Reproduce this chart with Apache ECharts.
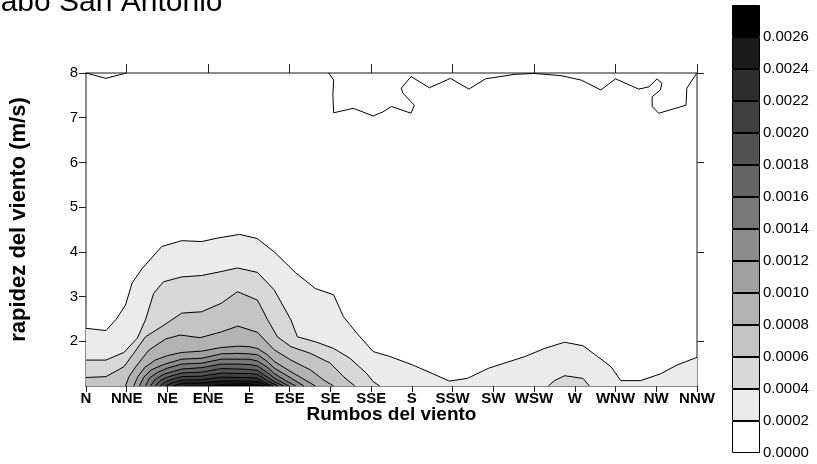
<!DOCTYPE html>
<html>
<head>
<meta charset="utf-8">
<script src="https://cdn.jsdelivr.net/npm/echarts@6/dist/echarts.min.js"></script>
<style>html,body{margin:0;padding:0;background:#fff;}#c{width:817px;height:464px;}</style>
</head>
<body>
<div id="c"></div>
<script>
var directions = ['N','NNE','NE','ENE','E','ESE','SE','SSE','S','SSW','SW','WSW','W','WNW','NW','NNW'];
var speedTicks = ['1','2','3','4','5','6','7','8'];
var levels = [0,0.0002,0.0004,0.0006,0.0008,0.0010,0.0012,0.0014,0.0016,0.0018,0.0020,0.0022,0.0024,0.0026,0.0028];
var bandColors = ['#ffffff','#ebebeb','#d8d8d8','#c4c4c4','#b2b2b2','#a0a0a0','#8c8c8c','#787878','#646464','#525252','#404040','#2e2e2e','#1a1a1a','#000000'];

// contour lines [direction index, speed m/s]
var c0000 = [[0,8],[0.49,7.88],[0.99,8]];
var c0000b = [[5.96,8],[6.08,7.84],[6.06,7.51],[6.08,7.11],[6.56,7.21],[7.05,7.04],[7.29,7.13],[7.50,7.25],[7.98,7.10],[8.06,7.28],[7.78,7.55],[7.74,7.66],[7.98,7.92],[8.43,7.67],[8.95,7.88],[9.40,7.64],[9.81,7.87],[10.53,7.97],[11.0,7.99],[11.67,7.94],[12.16,7.84],[12.64,7.62],[13.0,7.87],[13.57,7.64],[13.82,7.69],[14.02,7.87],[14.14,7.77],[14.1,7.62],[13.9,7.47],[13.9,7.25],[14.06,7.10],[14.73,7.28],[14.75,7.66],[14.99,7.99]];
var c0002 = [[0,2.29],[0.49,2.24],[0.73,2.48],[0.97,2.81],[1.13,3.30],[1.38,3.63],[1.86,4.12],[2.35,4.25],[2.84,4.23],[3.24,4.31],[3.77,4.39],[4.2,4.30],[4.62,4.0],[5.15,3.53],[5.63,3.18],[6.08,3.04],[6.32,2.55],[6.65,2.18],[7.05,1.77],[7.46,1.66],[8.02,1.47],[8.5,1.28],[8.92,1.11],[9.36,1.17],[9.89,1.40],[10.37,1.54],[10.78,1.66],[11.26,1.84],[11.75,1.98],[12.2,1.90],[12.56,1.66],[12.89,1.43],[13.13,1.12],[13.61,1.12],[14.1,1.27],[14.51,1.47],[15,1.64]];
var c0004 = [[0,1.58],[0.49,1.58],[0.93,1.75],[1.26,2.07],[1.46,2.48],[1.66,3.07],[1.9,3.33],[2.35,3.44],[2.84,3.47],[3.32,3.56],[3.72,3.64],[4.21,3.54],[4.62,3.15],[5.03,2.48],[5.19,2.10],[5.63,1.99],[6.08,1.84],[6.48,1.62],[6.89,1.28],[7.05,1.10],[7.21,1.0]];
var c0004b = [[11.35,1.0],[11.5,1.12],[11.75,1.23],[12.2,1.17],[12.36,1.0]];
var c0006 = [[0,1.19],[0.49,1.21],[0.93,1.43],[1.17,1.73],[1.46,2.10],[1.86,2.33],[2.35,2.63],[2.84,2.66],[3.32,2.85],[3.72,3.11],[4.21,2.92],[4.46,2.48],[4.7,2.10],[5.03,1.88],[5.51,1.73],[6.0,1.51],[6.32,1.21],[6.6,1.0]];
var c0008 = [[0.97,1.0],[1.05,1.2],[1.22,1.43],[1.54,1.80],[1.95,2.05],[2.31,2.14],[2.8,2.08],[3.32,2.21],[3.73,2.34],[4.21,2.2],[4.62,1.81],[5.03,1.58],[5.51,1.36],[5.84,1.13],[6.08,1.0]];
var c0010 = [[1.17,1.0],[1.28,1.22],[1.45,1.42],[1.7,1.58],[2.0,1.68],[2.35,1.75],[2.84,1.78],[3.32,1.86],[3.73,1.89],[4.0,1.88],[4.21,1.84],[4.45,1.7],[4.62,1.55],[5.03,1.32],[5.35,1.15],[5.63,1.0]];
var c0012 = [[1.31,1.0],[1.42,1.2],[1.6,1.36],[1.9,1.48],[2.35,1.6],[2.84,1.62],[3.32,1.72],[3.73,1.73],[4.0,1.72],[4.21,1.70],[4.45,1.55],[4.62,1.40],[5.03,1.18],[5.35,1.0]];
var c0014 = [[1.46,1.0],[1.56,1.18],[1.75,1.3],[2.0,1.4],[2.35,1.49],[2.84,1.51],[3.32,1.6],[3.73,1.60],[4.0,1.6],[4.21,1.56],[4.45,1.42],[4.62,1.28],[4.9,1.12],[5.15,1.0]];
var c0016 = [[1.58,1.0],[1.7,1.15],[1.9,1.26],[2.35,1.38],[2.84,1.41],[3.32,1.49],[3.73,1.49],[4.0,1.48],[4.21,1.45],[4.45,1.3],[4.62,1.18],[4.98,1.0]];
var c0018 = [[1.70,1.0],[1.82,1.12],[2.0,1.2],[2.35,1.29],[2.84,1.31],[3.32,1.39],[3.73,1.38],[4.0,1.37],[4.21,1.35],[4.45,1.2],[4.62,1.10],[4.85,1.0]];
var c0020 = [[1.82,1.0],[1.95,1.1],[2.35,1.21],[2.84,1.22],[3.32,1.29],[3.73,1.28],[4.0,1.28],[4.21,1.26],[4.45,1.12],[4.72,1.0]];
var c0022 = [[1.95,1.0],[2.1,1.07],[2.35,1.13],[2.84,1.14],[3.32,1.2],[3.73,1.19],[4.0,1.19],[4.21,1.17],[4.45,1.05],[4.6,1.0]];
var c0024 = [[2.14,1.0],[2.35,1.06],[2.84,1.07],[3.32,1.11],[3.73,1.11],[4.0,1.11],[4.21,1.1],[4.5,1.0]];
var c0026 = [[3.0,1.0],[3.32,1.03],[3.73,1.05],[4.0,1.05],[4.21,1.02],[4.38,1.0]];

var filled = [
  {data: c0002, band: 1}, {data: c0004, band: 2}, {data: c0004b, band: 2},
  {data: c0006, band: 3}, {data: c0008, band: 4}, {data: c0010, band: 5},
  {data: c0012, band: 6}, {data: c0014, band: 7}, {data: c0016, band: 8},
  {data: c0018, band: 9}, {data: c0020, band: 10}, {data: c0022, band: 11},
  {data: c0024, band: 12}, {data: c0026, band: 13}
];

var FONT = 'Liberation Sans, Arial, sans-serif';
var series = [];
filled.forEach(function (f) {
  series.push({
    type: 'line', xAxisIndex: 0, yAxisIndex: 0, data: f.data,
    showSymbol: false, symbol: 'none', smooth: false, silent: true,
    lineStyle: {color: '#000', width: 1},
    areaStyle: {color: bandColors[f.band], opacity: 1, origin: 'start'}
  });
});
[c0000, c0000b].forEach(function (d) {
  series.push({
    type: 'line', xAxisIndex: 0, yAxisIndex: 0, data: d,
    showSymbol: false, symbol: 'none', smooth: false, silent: true,
    lineStyle: {color: '#000', width: 1}
  });
});
for (var i = 0; i < bandColors.length; i++) {
  series.push({
    type: 'bar', xAxisIndex: 2, yAxisIndex: 2, stack: 'cb', barWidth: '100%', silent: true,
    data: [levels[i + 1] - levels[i]],
    itemStyle: {color: bandColors[i], borderColor: '#000', borderWidth: 1}
  });
}

var chart = echarts.init(document.getElementById('c'), null, {renderer: 'canvas'});
chart.setOption({
  animation: false,
  backgroundColor: '#fff',
  textStyle: {fontFamily: FONT},
  graphic: [{
    type: 'text', x: -21, y: -12,
    style: {text: 'Cabo San Antonio', fontSize: 30, fontFamily: FONT, fill: '#000', verticalAlign: 'top'}
  }],
  grid: [
    {left: 80, top: 73, width: 617, height: 313},
    {left: 732, top: 5, width: 28, height: 448}
  ],
  xAxis: [
    {
      type: 'value', gridIndex: 0, min: 0, max: 15, interval: 1,
      name: 'Rumbos del viento', nameLocation: 'middle', nameGap: 19, nameMoveOverlap: false,
      nameTextStyle: {fontSize: 19, fontWeight: 'bold', color: '#000', fontFamily: FONT},
      axisLine: {show: true, lineStyle: {color: '#666', width: 1.5}},
      axisTick: {show: true, length: 6, lineStyle: {color: '#222'}},
      axisLabel: {fontSize: 15, fontWeight: 'bold', color: '#000', margin: 5, fontFamily: FONT,
        formatter: function (v) { return directions[Math.round(v)]; }},
      splitLine: {show: false}
    },
    {
      type: 'category', gridIndex: 0, position: 'top', data: directions, boundaryGap: false,
      axisLine: {show: true, onZero: false, lineStyle: {color: '#666', width: 1.5}},
      axisTick: {show: true, length: 9, interval: function (idx) { return idx % 2 === 1; }, lineStyle: {color: '#222'}},
      axisLabel: {show: false}, splitLine: {show: false}
    },
    {
      type: 'category', gridIndex: 1, data: [''], show: false
    }
  ],
  yAxis: [
    {
      type: 'value', gridIndex: 0, min: 1, max: 8, interval: 1,
      name: 'rapidez del viento (m/s)', nameLocation: 'middle', nameGap: 56, nameMoveOverlap: false,
      nameTextStyle: {fontSize: 22, fontWeight: 'bold', color: '#000', fontFamily: FONT, padding: [0, 0, 0, 20]},
      axisLine: {show: true, lineStyle: {color: '#666', width: 1.5}},
      axisTick: {show: true, length: 7, lineStyle: {color: '#222'}},
      axisLabel: {fontSize: 15, color: '#000', margin: 8, showMinLabel: false, fontFamily: FONT},
      splitLine: {show: false}
    },
    {
      type: 'category', gridIndex: 0, position: 'right', data: speedTicks, boundaryGap: false,
      axisLine: {show: true, onZero: false, lineStyle: {color: '#666', width: 1.5}},
      axisTick: {show: true, length: 7, interval: function (idx) { return idx % 2 === 1; }, lineStyle: {color: '#222'}},
      axisLabel: {show: false}, splitLine: {show: false}
    },
    {
      type: 'value', gridIndex: 1, position: 'right', min: 0, max: 0.0028, interval: 0.0002,
      axisLine: {show: false}, axisTick: {show: false}, splitLine: {show: false},
      axisLabel: {fontSize: 15, color: '#000', margin: 3, showMaxLabel: false, fontFamily: FONT,
        formatter: function (v) { return v.toFixed(4); }}
    }
  ],
  series: series
});
</script>
</body>
</html>
